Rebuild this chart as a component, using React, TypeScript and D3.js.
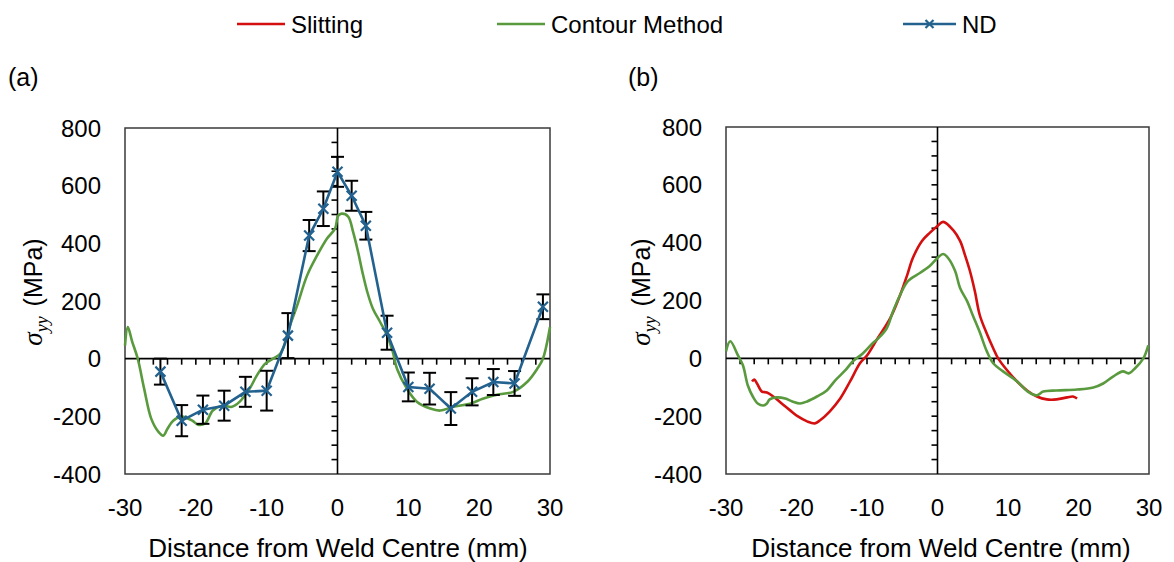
import React from 'react';
import * as d3 from 'd3';

const xTicks = [-30, -20, -10, 0, 10, 20, 30];
const yTicks = [-400, -200, 0, 200, 400, 600, 800];
const legendLabels = ['Slitting', 'Contour Method', 'ND'];

// Panel (a) – ND measurements
const ndX = [-25, -22, -19, -16, -13, -10, -7, -4, -2, 0, 2, 4, 7, 10, 13, 16, 19, 22, 25, 29];
const ndY = [-45, -215, -177, -163, -115, -111, 80, 427, 520, 648, 565, 461, 90, -98, -104, -173, -115, -81, -86, 180];
const ndErr = [45, 54, 49, 52, 52, 69, 78, 54, 60, 52, 52, 48, 59, 50, 55, 57, 47, 45, 43, 43];

// Panel (a) – contour method
const contourAX = [-30, -29.6, -29, -28.2, -27.3, -26.3, -25.3, -24.6, -24, -23.2, -22, -20.5, -19.7, -18.7, -17.6, -16.3, -14.9, -13.8, -12.4, -11.4, -10.2, -9.1, -8.1, -7.6, -7.0, -5.7, -4.3, -2.9, -1.5, -0.35, 0.1, 0.6, 1.5, 2.2, 2.9, 3.5, 4.2, 5.0, 6.0, 7.0, 7.8, 8.4, 9.8, 11.2, 13.1, 14.5, 16.3, 18.7, 20.5, 22.5, 24.8, 26.8, 28.2, 29, 30];
const contourAY = [45, 110, 60, 0, -104, -208, -253, -267, -243, -215, -201, -215, -229, -225, -180, -163, -167, -149, -104, -59, -17, 0, 17, 40, 94, 184, 288, 357, 416, 451, 496, 503, 493, 440, 371, 302, 232, 173, 128, 80, 24, -35, -104, -149, -173, -180, -167, -156, -139, -125, -115, -80, -35, 0, 110];

// Panel (b) – slitting
const slitX = [-26.3, -26, -25.6, -24.9, -24.2, -23.3, -22.1, -20.9, -19.8, -18.5, -17.4, -16.7, -15.3, -13.8, -12.4, -11, -10, -8.6, -6.7, -5.3, -4.3, -3.5, -2.2, -1.1, 0, 0.8, 2.2, 3.2, 3.9, 4.6, 5.3, 6.0, 7.0, 7.9, 8.6, 9.9, 11.3, 12.7, 14.1, 15.5, 16.9, 18.4, 19.2, 19.8];
const slitY = [-80, -73, -87, -115, -118, -132, -156, -180, -201, -218, -225, -215, -184, -139, -80, -17, 10, 65, 139, 219, 288, 347, 406, 434, 458, 472, 444, 406, 357, 302, 232, 149, 85, 35, 0, -42, -80, -111, -132, -142, -142, -135, -132, -139];

// Panel (b) – contour method
const contourBX = [-30, -29.4, -28.3, -27.6, -26.9, -26.2, -25.5, -24.7, -24.2, -23.8, -22.8, -21.6, -20.6, -19.5, -18.5, -17.1, -15.7, -14.5, -13.1, -12, -10.6, -9.2, -8.4, -7.2, -6.3, -5.3, -4.2, -2.5, -1.1, 0, 0.8, 1.5, 2.5, 3.2, 4.2, 5.0, 6.0, 7.0, 7.9, 9.3, 11.3, 12.8, 14.1, 15, 16.9, 19.8, 22.1, 23.5, 24.9, 26.3, 27.1, 28, 29.2, 29.9];
const contourBY = [24, 59, 10, -24, -94, -132, -156, -163, -156, -142, -135, -139, -149, -156, -149, -132, -111, -76, -42, -10, 17, 52, 69, 104, 163, 219, 267, 295, 319, 347, 361, 347, 302, 243, 198, 149, 90, 24, -17, -45, -80, -115, -128, -115, -111, -108, -101, -87, -63, -45, -52, -35, 0, 45];

const RED = '#d40f0f';
const GREEN = '#5a9a3e';
const BLUE = '#23628f';
const SANS = 'Liberation Sans, Arial, sans-serif';
const SERIF = 'Liberation Serif, Times New Roman, serif';

type Panel = { left: number; right: number; top: number; bottom: number; label: string; labelX: number; titleX: number; ylabX: number };

const panels: Panel[] = [
  { left: 125, right: 550, top: 128, bottom: 474, label: '(a)', labelX: 8, titleX: 338, ylabX: 42 },
  { left: 726, right: 1149, top: 127, bottom: 474, label: '(b)', labelX: 628, titleX: 941, ylabX: 650 },
];

function zip(xs: number[], ys: number[]): [number, number][] {
  return xs.map((x, i) => [x, ys[i]] as [number, number]);
}

function Chart({ p, idx }: { p: Panel; idx: number }) {
  const x = d3.scaleLinear().domain([-30, 30]).range([p.left, p.right]);
  const y = d3.scaleLinear().domain([-400, 800]).range([p.bottom, p.top]);
  const line = d3
    .line<[number, number]>()
    .x((d) => x(d[0]))
    .y((d) => y(d[1]))
    .curve(d3.curveCatmullRom.alpha(0.5));
  const straight = d3
    .line<[number, number]>()
    .x((d) => x(d[0]))
    .y((d) => y(d[1]));
  const minorX = d3.range(-28, 29, 2).filter((v) => v !== 0);
  const minorY = d3.range(-350, 751, 50).filter((v) => v !== 0);
  const x0 = x(0);
  const y0 = y(0);
  return (
    <g>
      <text x={p.labelX} y={86} fontFamily={SANS} fontSize={25}>
        {p.label}
      </text>
      <rect x={p.left} y={p.top} width={p.right - p.left} height={p.bottom - p.top} fill="none" stroke="#3a3a3a" strokeWidth={1.5} />
      {/* zero axes */}
      <line x1={p.left} x2={p.right} y1={y0} y2={y0} stroke="#000" strokeWidth={1.6} />
      <line x1={x0} x2={x0} y1={p.top} y2={p.bottom} stroke="#000" strokeWidth={1.6} />
      {minorX.map((v) => (
        <line key={'mx' + v} x1={x(v)} x2={x(v)} y1={y0} y2={y0 + 6} stroke="#000" strokeWidth={1.6} />
      ))}
      {minorY.map((v) => (
        <line key={'my' + v} x1={x0 - 6} x2={x0} y1={y(v)} y2={y(v)} stroke="#000" strokeWidth={1.6} />
      ))}
      {yTicks.map((v) => (
        <text key={'yt' + v} x={p.left - 24} y={y(v) + 8.5} textAnchor="end" fontFamily={SANS} fontSize={24} fill="#000">
          {v}
        </text>
      ))}
      {xTicks.map((v) => (
        <text key={'xt' + v} x={x(v)} y={516} textAnchor="middle" fontFamily={SANS} fontSize={24} fill="#000">
          {v}
        </text>
      ))}
      <text x={p.titleX} y={557} textAnchor="middle" fontFamily={SANS} fontSize={26} fill="#000">
        Distance from Weld Centre (mm)
      </text>
      <text transform={`translate(${p.ylabX},${292}) rotate(-90)`} textAnchor="middle" fontSize={25} fill="#000">
        <tspan fontFamily={SERIF} fontStyle="italic" fontSize={27}>σ</tspan>
        <tspan fontFamily={SERIF} fontStyle="italic" fontSize={18} dy={6}>yy</tspan>
        <tspan fontFamily={SANS} dy={-6} dx={10}>(MPa)</tspan>
      </text>
      {idx === 0 ? (
        <g>
          <path d={line(zip(contourAX, contourAY)) || ''} fill="none" stroke={GREEN} strokeWidth={2.6} />
          {ndX.map((v, i) => (
            <g key={'eb' + i} stroke="#000" strokeWidth={2}>
              <line x1={x(v)} x2={x(v)} y1={y(ndY[i] - ndErr[i])} y2={y(ndY[i] + ndErr[i])} />
              <line x1={x(v) - 6.5} x2={x(v) + 6.5} y1={y(ndY[i] - ndErr[i])} y2={y(ndY[i] - ndErr[i])} />
              <line x1={x(v) - 6.5} x2={x(v) + 6.5} y1={y(ndY[i] + ndErr[i])} y2={y(ndY[i] + ndErr[i])} />
            </g>
          ))}
          <path d={straight(zip(ndX, ndY)) || ''} fill="none" stroke={BLUE} strokeWidth={2.6} />
          {ndX.map((v, i) => (
            <path
              key={'mk' + i}
              d={`M${x(v) - 5},${y(ndY[i]) - 5}L${x(v) + 5},${y(ndY[i]) + 5}M${x(v) - 5},${y(ndY[i]) + 5}L${x(v) + 5},${y(ndY[i]) - 5}`}
              stroke={BLUE}
              strokeWidth={2.2}
            />
          ))}
        </g>
      ) : (
        <g>
          <path d={line(zip(slitX, slitY)) || ''} fill="none" stroke={RED} strokeWidth={2.6} />
          <path d={line(zip(contourBX, contourBY)) || ''} fill="none" stroke={GREEN} strokeWidth={2.6} />
        </g>
      )}
    </g>
  );
}

function Legend() {
  const items = [
    { label: legendLabels[0], color: RED, x1: 237, x2: 285, marker: false },
    { label: legendLabels[1], color: GREEN, x1: 497, x2: 545, marker: false },
    { label: legendLabels[2], color: BLUE, x1: 903, x2: 956, marker: true },
  ];
  const ly = 24;
  return (
    <g>
      {items.map((it) => (
        <g key={it.label}>
          <line x1={it.x1} x2={it.x2} y1={ly} y2={ly} stroke={it.color} strokeWidth={2.6} />
          {it.marker && (
            <path
              d={`M${(it.x1 + it.x2) / 2 - 4},${ly - 4}L${(it.x1 + it.x2) / 2 + 4},${ly + 4}M${(it.x1 + it.x2) / 2 - 4},${ly + 4}L${(it.x1 + it.x2) / 2 + 4},${ly - 4}`}
              stroke={it.color}
              strokeWidth={2.2}
            />
          )}
          <text x={it.x2 + 6} y={ly + 8.5} fontFamily={SANS} fontSize={24} fill="#000">
            {it.label}
          </text>
        </g>
      ))}
    </g>
  );
}

export default function App() {
  return (
    <svg width={1174} height={562} style={{ position: 'absolute', left: 0, top: 0, background: '#fff' }}>
      <rect x={0} y={0} width={1174} height={562} fill="#fff" />
      <Legend />
      {panels.map((p, i) => (
        <Chart key={i} p={p} idx={i} />
      ))}
    </svg>
  );
}
